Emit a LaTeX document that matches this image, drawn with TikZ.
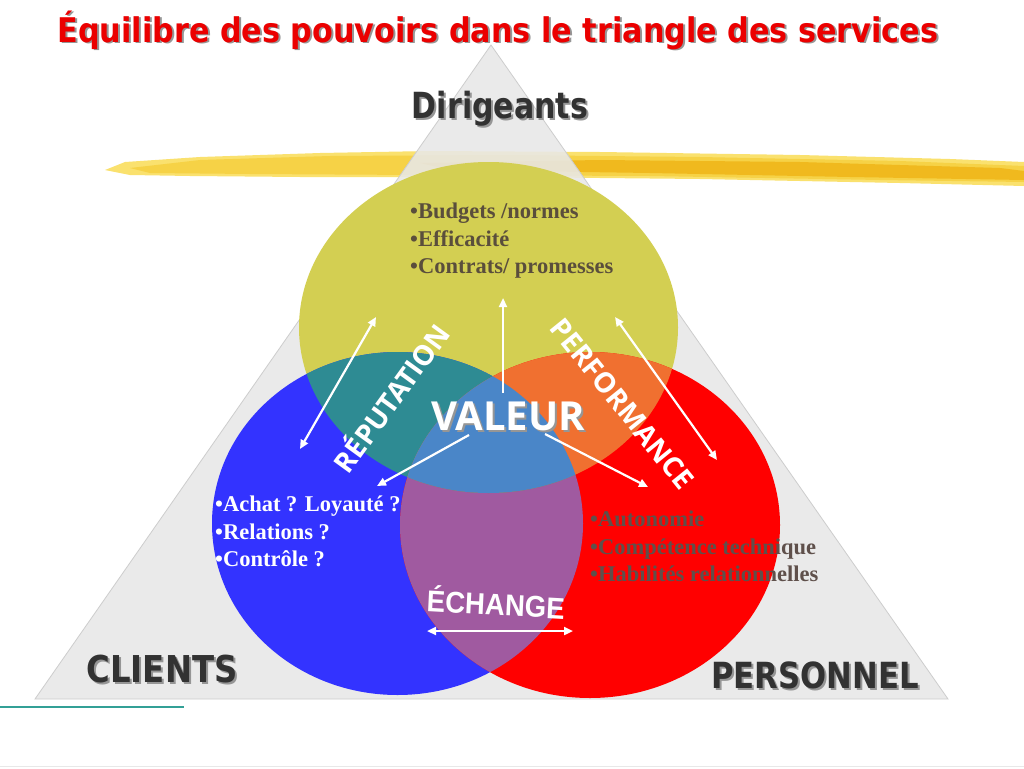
\documentclass[tikz,border=0pt]{standalone}
\usepackage{fontspec}
\setmainfont{Liberation Serif}
\newfontfamily\dvsans{DejaVu Sans}
\newfontfamily\osans{Open Sans}
\newfontfamily\lsans{Liberation Sans}
\usetikzlibrary{arrows.meta}
\definecolor{cyel}{RGB}{211,207,82}
\definecolor{cblue}{RGB}{51,51,255}
\definecolor{cred}{RGB}{255,0,0}
\definecolor{cteal}{RGB}{46,139,147}
\definecolor{corange}{RGB}{240,112,48}
\definecolor{cpurple}{RGB}{160,90,160}
\definecolor{ccenter}{RGB}{74,134,200}
\definecolor{ctri}{RGB}{232,232,232}
\definecolor{ctriedge}{RGB}{205,205,205}
\definecolor{ctitle}{RGB}{235,0,0}
\definecolor{cdark}{RGB}{50,50,50}
\definecolor{cshadow}{RGB}{150,150,150}
\definecolor{cytext}{RGB}{90,78,60}
\definecolor{crtext}{RGB}{95,80,75}
\definecolor{cgold}{RGB}{246,210,70}
\definecolor{cgold2}{RGB}{240,185,30}
\definecolor{cgold3}{RGB}{250,225,110}
\definecolor{cline}{RGB}{50,160,150}
\tikzset{
  arr/.style={white, line width=2.2pt, -{Triangle[length=9pt,width=8pt]}},
  darr/.style={white, line width=2.2pt, {Triangle[length=9pt,width=8pt]}-{Triangle[length=9pt,width=8pt]}},
  bul/.style={font=\bfseries\fontsize{22.5}{27.5}\selectfont, align=left, anchor=north west, inner sep=0pt},
  bigw/.style={text=white, font=\osans\bfseries\fontsize{28}{30}\selectfont, inner sep=0pt},
  lab/.style={font=\dvsans\bfseries\fontsize{36}{38}\selectfont, inner sep=0pt, anchor=base},
}
\begin{document}
\begin{tikzpicture}[x=1pt,y=-1pt]
\useasboundingbox (0,0) rectangle (1024,768);
\fill[white] (0,0) rectangle (1024,768);
% brush stroke
\fill[cgold3] (105,170) -- (125,162) -- (200,157) -- (320,153) -- (430,151) -- (600,152) -- (800,155) -- (950,159) -- (1024,162) -- (1024,186) -- (900,183) -- (700,179) -- (500,177) -- (300,177) -- (190,176) -- (130,175) -- cycle;
\fill[cgold] (130,168) -- (200,160) -- (330,156) -- (500,155) -- (700,157) -- (900,161) -- (1024,166) -- (1024,182) -- (880,180) -- (650,176) -- (420,175) -- (250,174) -- (150,173) -- cycle;
\fill[cgold2] (420,163) -- (600,160) -- (800,162) -- (1000,168) -- (1024,171) -- (1024,180) -- (850,177) -- (650,173) -- (450,170) -- cycle;
% triangle
\fill[ctri, opacity=0.88] (491,45) -- (948,699) -- (35,699) -- cycle;
\draw[ctriedge, line width=0.8pt] (491,45) -- (948,699) -- (35,699) -- cycle;
% circles
\fill[cyel] (488.5,327.5) ellipse [x radius=189.5, y radius=165.5];
\fill[cblue] (397.5,523.5) ellipse [x radius=185.5, y radius=171.5];
\fill[cred] (590,525) ellipse [x radius=190, y radius=173];
\begin{scope}
  \clip (397.5,523.5) ellipse [x radius=185.5, y radius=171.5];
  \fill[cpurple] (590,525) ellipse [x radius=190, y radius=173];
\end{scope}
\begin{scope}
  \clip (488.5,327.5) ellipse [x radius=189.5, y radius=165.5];
  \fill[cteal] (397.5,523.5) ellipse [x radius=185.5, y radius=171.5];
  \fill[corange] (590,525) ellipse [x radius=190, y radius=173];
  \clip (397.5,523.5) ellipse [x radius=185.5, y radius=171.5];
  \fill[ccenter] (590,525) ellipse [x radius=190, y radius=173];
\end{scope}
% title
\node[text=cshadow, font=\dvsans\bfseries\fontsize{34}{38}\selectfont, xscale=0.89, inner sep=0pt, anchor=base] (titles) at (500,44) {Équilibre des pouvoirs dans le triangle des services};
\node[text=ctitle, font=\dvsans\bfseries\fontsize{34}{38}\selectfont, xscale=0.89, inner sep=0pt, anchor=base] (title) at (498,42) {Équilibre des pouvoirs dans le triangle des services};
% corner labels
\node[lab, text=cshadow, xscale=0.834] (dirs) at (502,120) {Dirigeants};
\node[lab, text=cdark, xscale=0.834] (dir) at (500,118) {Dirigeants};
\node[lab, text=cshadow, font=\dvsans\bfseries\fontsize{37}{38}\selectfont, xscale=0.874] (clis) at (164,684) {CLIENTS};
\node[lab, text=cdark, font=\dvsans\bfseries\fontsize{37}{38}\selectfont, xscale=0.874] (cli) at (162,682) {CLIENTS};
\node[lab, text=cshadow, xscale=0.853] (pers) at (817,690) {PERSONNEL};
\node[lab, text=cdark, xscale=0.853] (per) at (815,688) {PERSONNEL};
% bullets
\node[bul, text=cytext] (ytext) at (410,203) {•Budgets /normes\\•Efficacité\\•Contrats/ promesses};
\node[bul, text=white] (btext) at (215,496) {•Achat ? Loyauté ?\\•Relations ?\\•Contrôle ?};
\node[bul, text=crtext] (rtext) at (590,511) {•Autonomie\\•Compétence technique\\•Habilités relationnelles};
% centre words
\node[text=cshadow, font=\osans\bfseries\fontsize{40}{42}\selectfont, inner sep=0pt] (vals) at (510,418) {VALEUR};
\node[text=white, font=\osans\bfseries\fontsize{40}{42}\selectfont, inner sep=0pt] (val) at (508,416) {VALEUR};
\node[bigw, rotate=54] (rep) at (390,397) {RÉPUTATION};
\node[bigw, rotate=-51] (perf) at (622,404) {PERFORMANCE};
\node[text=white, font=\lsans\bfseries\fontsize{30}{32}\selectfont, xscale=0.92, rotate=-3, inner sep=0pt] (ech) at (496,602) {ÉCHANGE};
% arrows
\coordinate (r1) at (300,449);
\coordinate (r2) at (376,317);
\coordinate (u1) at (503,393);
\coordinate (u2) at (503,298);
\coordinate (l1) at (469,435);
\coordinate (l2) at (377,486);
\coordinate (g1) at (545,434);
\coordinate (g2) at (648,487);
\coordinate (p1) at (615,317);
\coordinate (p2) at (717,460);
\coordinate (e1) at (427,631);
\coordinate (e2) at (573,631);
\draw[darr] (r1) -- (r2);
\draw[arr] (u1) -- (u2);
\draw[arr] (l1) -- (l2);
\draw[arr] (g1) -- (g2);
\draw[darr] (p1) -- (p2);
\draw[darr] (e1) -- (e2);
% lines
\coordinate (t1) at (0,707);
\coordinate (t2) at (184,707);
\draw[cline, line width=1.2pt] (t1) -- (t2);
\coordinate (b1) at (0,766);
\coordinate (b2) at (1024,766);
\draw[ctri, line width=1pt] (b1) -- (b2);
\end{tikzpicture}
\end{document}
